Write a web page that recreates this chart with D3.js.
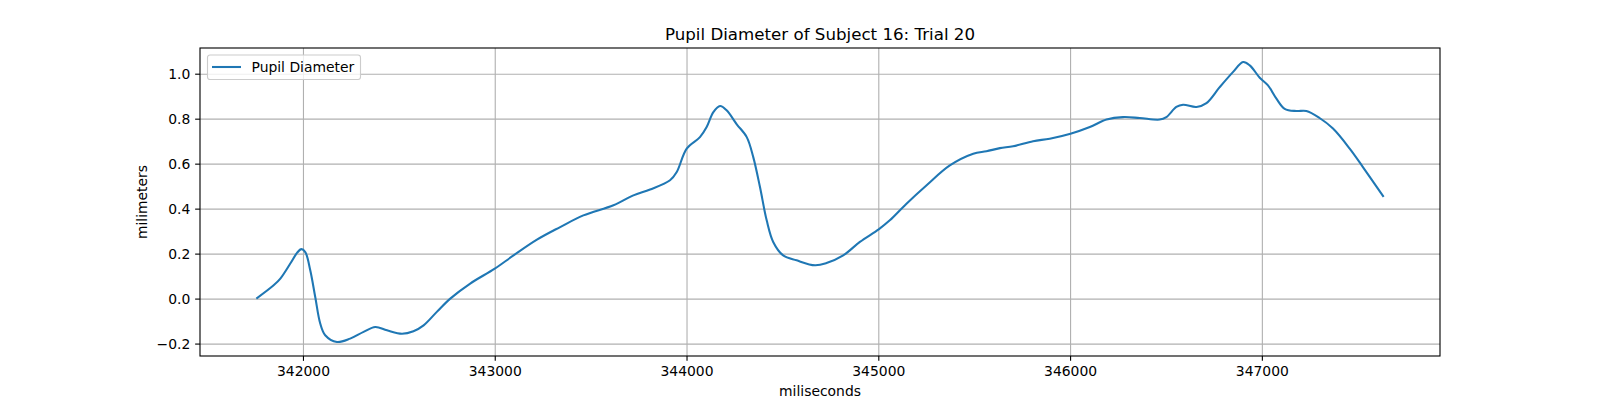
<!DOCTYPE html>
<html>
<head>
<meta charset="utf-8">
<script src="https://cdn.jsdelivr.net/npm/d3@7"></script>
<style>
	body { margin: 0; background: #fff; }
	svg  { display: block; font-family: "DejaVu Sans", sans-serif; }
</style>
</head>
<body>
<div id="chart"></div>
<script>
/*
Pupil diameter line chart
*/

	//Sample times (ms)
	var times = [
		341757, 341847, 341882, 341934, 341969, 341991, 342012, 342038, 342064, 342090,
		342116, 342177, 342246, 342316, 342377, 342438, 342516, 342576, 342629, 342698,
		342768, 342872, 343000, 343098, 343220, 343341, 343462, 343619, 343723, 343810,
		343914, 343949, 344001, 344070, 344105, 344140, 344175, 344209, 344262, 344314,
		344348, 344383, 344418, 344452, 344504, 344574, 344670, 344730, 344817, 344904,
		345002, 345060, 345147, 345252, 345373, 345495, 345564, 345634, 345703, 345807,
		345894, 346002, 346103, 346190, 346276, 346363, 346467, 346502, 346554, 346589,
		346659, 346711, 346780, 346849, 346902, 346937, 346989, 347032, 347076, 347119,
		347180, 347232, 347301, 347371, 347458, 347527, 347635
	];

	//Pupil diameter (mm)
	var diameters = [
		0.000, 0.059, 0.089, 0.156, 0.203, 0.220, 0.207, 0.126, 0.007, -0.111,
		-0.163, -0.193, -0.178, -0.148, -0.126, -0.141, -0.156, -0.145, -0.119, -0.059,
		0.000, 0.067, 0.133, 0.192, 0.262, 0.318, 0.370, 0.415, 0.459, 0.485,
		0.526, 0.563, 0.667, 0.718, 0.763, 0.829, 0.856, 0.837, 0.775, 0.718,
		0.629, 0.496, 0.348, 0.252, 0.192, 0.170, 0.148, 0.158, 0.192, 0.252,
		0.308, 0.348, 0.422, 0.504, 0.592, 0.644, 0.655, 0.669, 0.677, 0.700,
		0.711, 0.733, 0.763, 0.796, 0.807, 0.803, 0.796, 0.807, 0.852, 0.862,
		0.852, 0.869, 0.940, 1.007, 1.052, 1.037, 0.982, 0.948, 0.889, 0.844,
		0.834, 0.834, 0.803, 0.756, 0.667, 0.585, 0.452
	];

	var xTicks = [342000, 343000, 344000, 345000, 346000, 347000];
	var yTicks = [-0.2, 0.0, 0.2, 0.4, 0.6, 0.8, 1.0];

	var seriesName = "Pupil Diameter",
		title      = "Pupil Diameter of Subject 16: Trial 20",
		xLabel     = "miliseconds",
		yLabel     = "milimeters";

	/*
	Layout
	*/

	var W = 1600, H = 400,
		margin = { top: 48, right: 160, bottom: 44, left: 200 },
		width  = W - margin.left - margin.right,
		height = H - margin.top - margin.bottom,
		tickLen = 4.86,
		thin = 1.11,
		thick = 2.08,
		fs = 13.9;

	var data = times.map(function (t, i) { return { t: t, v: diameters[i] }; });

	//Pad domains by 5% like matplotlib
	var pad = function (ext) {
		var d = (ext[1] - ext[0]) * 0.05;
		return [ext[0] - d, ext[1] + d];
	};

	var x = d3.scaleLinear().domain(pad(d3.extent(times))).range([0, width]);
	var y = d3.scaleLinear().domain(pad(d3.extent(diameters))).range([height, 0]);

	var svg = d3.select("#chart").append("svg")
		.attr("width", W)
		.attr("height", H);

	var g = svg.append("g")
		.attr("transform", "translate(" + margin.left + "," + margin.top + ")");

	//Grid
	g.append("g")
		.attr("class", "grid")
		.attr("transform", "translate(0," + height + ")")
		.call(d3.axisBottom(x).tickValues(xTicks).tickSize(-height).tickFormat(""));

	g.append("g")
		.attr("class", "grid")
		.call(d3.axisLeft(y).tickValues(yTicks).tickSize(-width).tickFormat(""));

	g.selectAll(".grid .domain").remove();
	g.selectAll(".grid line")
		.attr("stroke", "#b0b0b0")
		.attr("stroke-width", thin);

	//Line
	var line = d3.line()
		.x(function (d) { return x(d.t); })
		.y(function (d) { return y(d.v); })
		.curve(d3.curveCatmullRom.alpha(0.5));

	g.append("path")
		.datum(data)
		.attr("fill", "none")
		.attr("stroke", "#1f77b4")
		.attr("stroke-width", thick)
		.attr("stroke-linejoin", "round")
		.attr("stroke-linecap", "butt")
		.attr("d", line);

	//Axes
	var xAxis = g.append("g")
		.attr("transform", "translate(0," + height + ")")
		.call(d3.axisBottom(x).tickValues(xTicks).tickSize(tickLen).tickPadding(tickLen).tickFormat(d3.format("d")));

	var yAxis = g.append("g")
		.call(d3.axisLeft(y).tickValues(yTicks).tickSize(tickLen).tickPadding(tickLen).tickFormat(d3.format(".1f")));

	[xAxis, yAxis].forEach(function (a) {
		a.select(".domain").remove();
		a.selectAll("line").attr("stroke", "#000").attr("stroke-width", thin);
		a.selectAll("text")
			.attr("fill", "#000")
			.style("font-size", fs + "px")
			.style("font-family", "DejaVu Sans");
	});

	//Frame
	g.append("rect")
		.attr("width", width)
		.attr("height", height)
		.attr("fill", "none")
		.attr("stroke", "#000")
		.attr("stroke-width", thin);

	//Title and labels
	svg.append("text")
		.attr("x", margin.left + width / 2)
		.attr("y", 40)
		.attr("text-anchor", "middle")
		.style("font-size", "16.67px")
		.text(title);

	svg.append("text")
		.attr("x", margin.left + width / 2)
		.attr("y", 396)
		.attr("text-anchor", "middle")
		.style("font-size", fs + "px")
		.text(xLabel);

	svg.append("text")
		.attr("transform", "translate(147," + (margin.top + height / 2) + ") rotate(-90)")
		.attr("text-anchor", "middle")
		.style("font-size", fs + "px")
		.text(yLabel);

	//Legend
	var legend = g.append("g").attr("transform", "translate(7.5,7)");

	legend.append("rect")
		.attr("width", 153)
		.attr("height", 24.5)
		.attr("rx", 2.5)
		.attr("fill", "#fff")
		.attr("fill-opacity", 0.8)
		.attr("stroke", "#cccccc")
		.attr("stroke-width", thin);

	legend.append("line")
		.attr("x1", 4.5).attr("x2", 33.5)
		.attr("y1", 12).attr("y2", 12)
		.attr("stroke", "#1f77b4")
		.attr("stroke-width", thick);

	legend.append("text")
		.attr("x", 44)
		.attr("y", 17)
		.style("font-size", fs + "px")
		.text(seriesName);
</script>
</body>
</html>
